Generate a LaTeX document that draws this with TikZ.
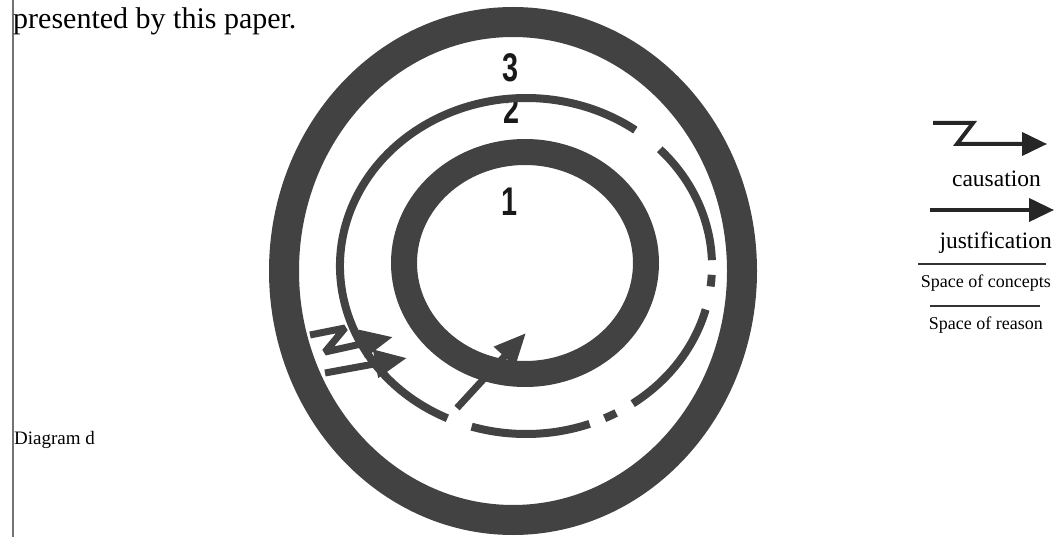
\documentclass[tikz,border=0pt]{standalone}
\usepackage{fontspec}
\setmainfont{Liberation Serif}
\newfontfamily\numfont{Liberation Sans}
\usetikzlibrary{arrows.meta,calc}
\definecolor{ringgray}{gray}{0.26}

\begin{document}
\begin{tikzpicture}[x=1pt, y=-1pt,
  ring/.style={draw=ringgray},
  midring/.style={draw=ringgray, line width=8pt},
  num/.style={font=\numfont\bfseries\fontsize{40}{40}\selectfont, xscale=0.72, text=black!90, inner sep=0pt},
  txt/.style={font=\fontsize{18}{18}\selectfont, inner sep=0pt},
  bigtxt/.style={font=\fontsize{23.5}{24}\selectfont, inner sep=0pt},
  causal/.style={draw=ringgray, line width=7pt, miter limit=3, -{Triangle[length=32pt, width=27pt]}},
  legarrow/.style={draw=black!85, line width=4pt, miter limit=3, -{Triangle[length=25pt, width=23pt]}},
  legline/.style={draw=black!80, line width=1.6pt},
]
  \useasboundingbox (0,0) rectangle (1060,537);

  % margin line and running text
  \coordinate (mtop) at (13,0);
  \coordinate (mbot) at (13,537);
  \draw[black!55, line width=1.2pt] (mtop) -- (mbot);
  \node[anchor=base west, inner sep=0pt, font=\fontsize{30}{30}\selectfont] (intro) at (13,29) {presented by this paper.};
  \node[txt, font=\fontsize{19}{19}\selectfont, anchor=base west] (capt) at (14,444) {Diagram d};

  % the three spaces
  \coordinate (c3) at (513,271);
  \coordinate (c2) at (526,266);
  \coordinate (c1) at (525,263);
  \node[num] (n2) at (512,110) {2};
  \draw[ring, line width=30pt] (c3) ellipse[x radius=229, y radius=249];
  \draw[ring, line width=26pt] (c1) ellipse[x radius=121, y radius=111];
  \draw[midring] ($(c2)+(-245:186 and 168)$) arc[start angle=-245, end angle=-54, x radius=186, y radius=168];
  \draw[midring] ($(c2)+(-44:186 and 168)$) arc[start angle=-44, end angle=-2, x radius=186, y radius=168];
  \draw[midring] ($(c2)+(3:186 and 168)$) arc[start angle=3, end angle=7, x radius=186, y radius=168];
  \draw[midring] ($(c2)+(15:186 and 168)$) arc[start angle=15, end angle=55, x radius=186, y radius=168];
  \draw[midring] ($(c2)+(61:186 and 168)$) arc[start angle=61, end angle=65, x radius=186, y radius=168];
  \draw[midring] ($(c2)+(70:186 and 168)$) arc[start angle=70, end angle=107, x radius=186, y radius=168];
  \node[num] (n3) at (511,68) {3};
  \node[num] (n1) at (510,202) {1};

  % causation into space 2, justification into space 1
  \coordinate (za) at (310,335);
  \coordinate (zb) at (345,328);
  \coordinate (zc) at (325,352);
  \coordinate (zd) at (393,337);
  \coordinate (ya) at (325,373);
  \coordinate (yb) at (407,358);
  \draw[causal] (za) -- (zb) -- (zc) -- (zd);
  \draw[causal] (ya) -- (yb);
  \coordinate (ja) at (457,408);
  \coordinate (jb) at (526,333);
  \draw[causal] (ja) -- (jb);

  % legend
  \coordinate (la) at (933,123);
  \coordinate (lb) at (973,123);
  \coordinate (lc) at (957,144);
  \coordinate (ld) at (1047,144);
  \draw[legarrow] (la) -- (lb) -- (lc) -- (ld);
  \node[bigtxt, anchor=base east] (lcaus) at (1041,187) {causation};
  \coordinate (ma) at (930,210);
  \coordinate (mb) at (1054,210);
  \draw[legarrow] (ma) -- (mb);
  \node[bigtxt, anchor=base east] (ljust) at (1052,249) {justification};
  \coordinate (pa) at (918,264);
  \coordinate (pb) at (1046,264);
  \draw[legline] (pa) -- (pb);
  \node[txt, anchor=base east] (lconc) at (1051,288) {Space of concepts};
  \coordinate (qa) at (930,306);
  \coordinate (qb) at (1040,306);
  \draw[legline] (qa) -- (qb);
  \node[txt, anchor=base east] (lreas) at (1043,330) {Space of reason};
\end{tikzpicture}
\end{document}
